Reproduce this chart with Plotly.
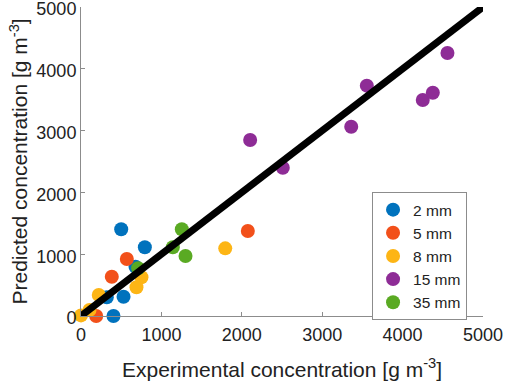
import plotly.graph_objects as go

series_names = ["2 mm", "5 mm", "8 mm", "15 mm", "35 mm"]
colors = ["#0072BD", "#F2501A", "#FDB515", "#8E2C96", "#5AAA23"]

x_2mm = [500, 794, 678, 321, 529, 404]
y_2mm = [1403, 1112, 798, 302, 312, 0]
x_5mm = [570, 383, 189, 2075]
y_5mm = [922, 636, 0, 1375]
x_8mm = [752, 690, 221, 0, 106, 1794]
y_8mm = [626, 464, 340, 10, 97, 1095]
x_15mm = [2104, 2510, 3361, 3555, 4251, 4376, 4558]
y_15mm = [2848, 2400, 3063, 3727, 3495, 3613, 4256]
x_35mm = [711, 1254, 1142, 1300]
y_35mm = [772, 1403, 1112, 971]

line_x = [0, 5000]
line_y = [0, 5000]
ticks = [0, 1000, 2000, 3000, 4000, 5000]
x_title = "Experimental concentration [g m<sup>-3</sup>]"
y_title = "Predicted concentration [g m<sup>-3</sup>]"

xs = [x_2mm, x_5mm, x_8mm, x_15mm, x_35mm]
ys = [y_2mm, y_5mm, y_8mm, y_15mm, y_35mm]

fig = go.Figure()
for name, c, xv, yv in zip(series_names, colors, xs, ys):
    fig.add_trace(go.Scatter(x=xv, y=yv, mode="markers", name=name,
                             marker=dict(color=c, size=14, line=dict(width=0)),
                             cliponaxis=False))
fig.add_trace(go.Scatter(x=line_x, y=line_y, mode="lines", showlegend=False,
                         line=dict(color="black", width=7), cliponaxis=False))

font = "Arial"
axis_common = dict(range=[0, 5000], tickvals=ticks, ticktext=[str(t) for t in ticks],
                   showgrid=False, zeroline=False, showline=True, linecolor="#8c8c8c",
                   linewidth=1, ticks="inside", ticklen=4, tickcolor="#8c8c8c",
                   tickfont=dict(size=18, color="#222"), mirror=False,
                   ticklabeloverflow="allow", automargin=False)
fig.update_layout(
    width=505, height=381,
    margin=dict(l=81, r=22, t=7, b=65, autoexpand=False),
    plot_bgcolor="white", paper_bgcolor="white",
    font=dict(family=font, color="#222"),
    xaxis=dict(**axis_common, ticklabelstandoff=2),
    yaxis=dict(**axis_common, ticklabelshift=2),
    legend=dict(x=0.724, y=0.401, xanchor="left", yanchor="top",
                bordercolor="#8c8c8c", borderwidth=1, bgcolor="white",
                font=dict(size=15.5, color="#222"), tracegroupgap=0,
                entrywidth=58, entrywidthmode="pixels"),
    annotations=[
        dict(text=x_title, xref="paper", yref="paper", x=0.5, y=-52 / 309,
             xanchor="center", yanchor="middle", showarrow=False,
             font=dict(size=21, color="#222")),
        dict(text=y_title, xref="paper", yref="paper", x=-63 / 402, y=0.5,
             xanchor="center", yanchor="middle", showarrow=False, textangle=-90,
             font=dict(size=21, color="#222")),
    ],
)
fig.write_html("out.html", config={"displayModeBar": False},
               post_script="document.body.style.margin='0';")
